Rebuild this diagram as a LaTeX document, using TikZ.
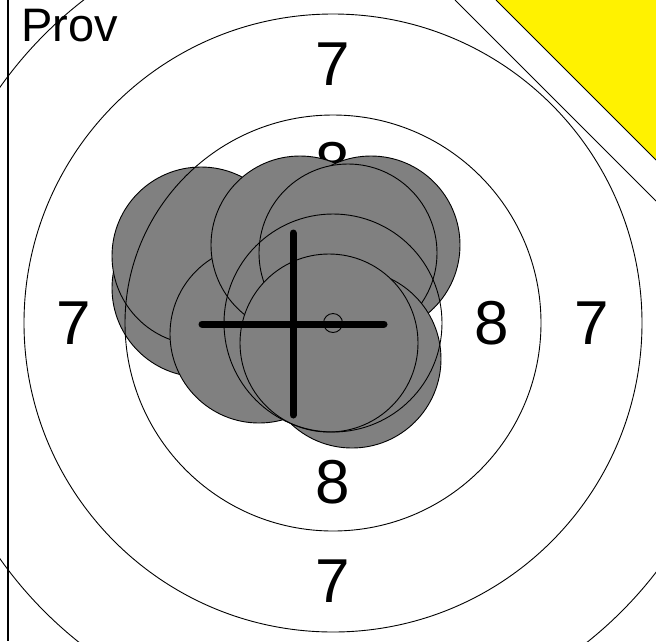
\documentclass[tikz,border=0pt]{standalone}
\usepackage{fontspec}
\setmainfont{Liberation Sans}
\begin{document}
\begin{tikzpicture}[x=1pt,y=-1pt,
  ring/.style={draw=black,line width=0.9pt},
  shot/.style={fill={rgb,255:red,128;green,128;blue,128},draw=black,line width=0.9pt},
  lbl/.style={inner sep=0pt,font=\fontsize{62}{62}\selectfont},
  crossbar/.style={line width=7pt,line cap=round},
]
\useasboundingbox (0,0) rectangle (656,641);
\fill[white] (0,0) rectangle (656,641);
\begin{scope}
\clip (0,0) rectangle (656,641);
\coordinate (c) at (333,323);
% labels
\node[lbl] (t7) at (333,64.5) {7};
\node[lbl] (b7) at (333,581) {7};
\node[lbl] (l7) at (74,323.5) {7};
\node[lbl] (r7) at (592,323.5) {7};
\node[lbl] (t8) at (333,164) {8};
\node[lbl] (b8) at (333,482) {8};
\node[lbl] (l8) at (174,323.5) {8};
\node[lbl] (r8) at (492,323.5) {8};
% outer rings
\draw[ring] (c) circle[radius=408pt];
\draw[ring] (c) circle[radius=309pt];
% shots (drawn in order)
\foreach \p in {(201,288),(201,256),(259,334),(300,245),(371,245),(348,253),(352,359),(329,343)}
  \path[shot] \p circle[radius=89pt];
% inner rings
\draw[ring] (c) circle[radius=208pt];
\draw[ring] (c) circle[radius=109pt];
% cross
\coordinate (m) at (293,324);
\draw[crossbar] ([xshift=-91pt]m) -- ([xshift=91pt]m);
\draw[crossbar] ([yshift=91pt]m) -- ([yshift=-91pt]m);
\draw[ring] (c) circle[radius=9.5pt];
% top right
\draw[line width=1pt] (455,0) -- (656,201);
\fill[yellow] (496,0) -- (656,0) -- (656,160) -- cycle;
\draw[line width=1pt] (496,0) -- (656,160);
\end{scope}
\draw[line width=1.5pt] (8,0) -- (8,641);
\node[inner sep=0pt,anchor=base west,font=\fontsize{47}{47}\selectfont] (prov) at (21,41.7) {Prov};
\end{tikzpicture}
\end{document}
